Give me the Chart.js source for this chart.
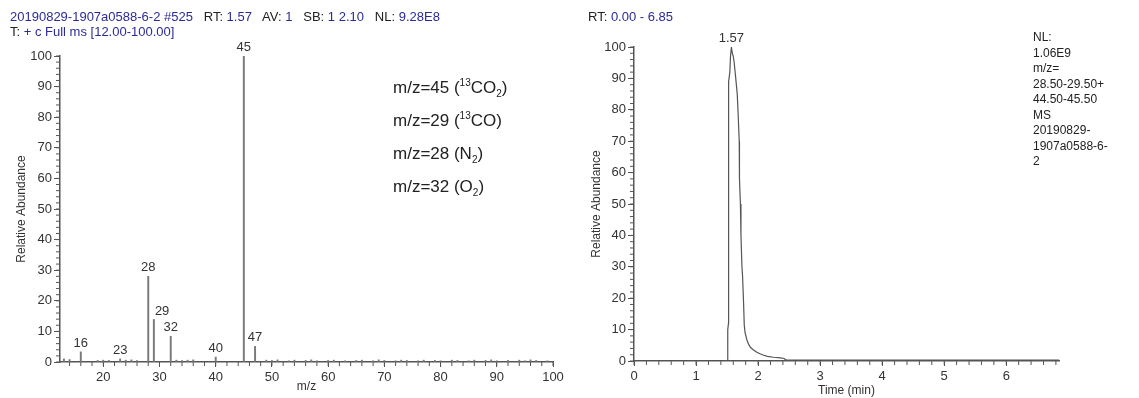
<!DOCTYPE html>
<html>
<head>
<meta charset="utf-8">
<script src="https://cdn.jsdelivr.net/npm/chart.js@4.4.0/dist/chart.umd.min.js"></script>
<style>
  body { margin: 0; background: #fff; font-family: "Liberation Sans", Arial, sans-serif; }
  #wrap { position: relative; width: 1139px; height: 398px; overflow: hidden; }
  canvas { position: absolute; top: 0; }
  .txt { position: absolute; font-size: 13px; color: #222; white-space: pre; line-height: 15px; }
  .b { color: #2b2b98; }
  .note { position: absolute; left: 393px; font-size: 17px; color: #222; white-space: nowrap; }
  .note sup { font-size: 10px; vertical-align: 7px; }
  .note sub { font-size: 10px; vertical-align: -4px; }
  .nl { position: absolute; left: 1033px; top: 30px; font-size: 12px; line-height: 15.5px; color: #222; }
</style>
</head>
<body>
<div id="wrap">
  <canvas id="spectrum" width="575" height="398" style="left:0"></canvas>
  <canvas id="chrom" width="564" height="398" style="left:575px"></canvas>

  <div class="txt" style="left:10px;top:9px"><span class="b">20190829-1907a0588-6-2 #525</span>   RT: <span class="b">1.57</span>   AV: <span class="b">1</span>   SB: <span class="b">1 2.10</span>   NL: <span class="b">9.28E8</span></div>
  <div class="txt" style="left:10px;top:24px">T: <span class="b">+ c Full ms [12.00-100.00]</span></div>
  <div class="txt" style="left:588px;top:9px">RT: <span class="b">0.00 - 6.85</span></div>

  <div class="note" style="top:77px">m/z=45 (<sup>13</sup>CO<sub>2</sub>)</div>
  <div class="note" style="top:110px">m/z=29 (<sup>13</sup>CO)</div>
  <div class="note" style="top:144px">m/z=28 (N<sub>2</sub>)</div>
  <div class="note" style="top:177px">m/z=32 (O<sub>2</sub>)</div>

  <div class="nl">NL:<br>1.06E9<br>m/z=<br>28.50-29.50+<br>44.50-45.50<br>MS<br>20190829-<br>1907a0588-6-<br>2</div>
</div>

<script>
// mass spectrum at RT 1.57
const spectrumMz = [13, 14, 16, 19, 20, 21, 23, 24, 25, 26, 28, 29, 32, 33, 34, 35, 36, 40, 45, 47,
  49, 50, 51, 53, 54, 56, 57, 58, 60, 61, 63, 65, 66, 68, 69, 70, 72, 73, 74, 76, 77, 79, 80, 82,
  83, 85, 86, 88, 89, 90, 92, 94, 95, 96, 97, 99];
const spectrumAbundance = [1.0, 0.8, 3.3, 0.5, 0.6, 0.5, 1.0, 0.6, 0.7, 0.5, 28.0, 13.9, 8.4, 0.6, 0.5, 0.6, 0.7, 1.6, 100, 5.1,
  0.6, 0.5, 0.7, 0.4, 0.6, 0.5, 0.7, 0.4, 0.5, 0.6, 0.4, 0.5, 0.6, 0.4, 0.7, 0.5, 0.4, 0.6, 0.5, 0.4, 0.6, 0.5, 0.4, 0.6,
  0.5, 0.4, 0.6, 0.5, 0.7, 0.4, 0.5, 0.6, 0.4, 0.7, 0.5, 0.4];
const labelledMz = [16, 23, 28, 29, 32, 40, 45, 47];
const mzTicks = [20, 30, 40, 50, 60, 70, 80, 90, 100];

// chromatogram, m/z 28.5-29.5 + 44.5-45.5
const chromTime = [0, 1.50, 1.507, 1.515, 1.523, 1.525, 1.545, 1.555, 1.57, 1.585, 1.60, 1.615, 1.64, 1.664, 1.68,
  1.696, 1.70, 1.715, 1.724, 1.74, 1.75, 1.766, 1.777, 1.79, 1.82, 1.85, 1.88, 1.927, 1.98, 2.03, 2.08, 2.15,
  2.25, 2.36, 2.42, 2.45, 3.0, 4.0, 5.0, 6.0, 6.85];
const chromAbundance = [0, 0, 4, 10, 12, 89, 92, 97, 100, 98, 97, 95, 90, 85, 78,
  70, 58, 50, 40, 30, 27, 18.5, 11.5, 9, 6.7, 5.2, 4.3, 3.5, 2.8, 2.3, 1.9, 1.5,
  1.2, 1.0, 0.8, 0.3, 0.3, 0.3, 0.3, 0.3, 0.3];
const chromApexLabel = "1.57";
const timeTicks = [0, 1, 2, 3, 4, 5, 6];

const yTicks = [0, 10, 20, 30, 40, 50, 60, 70, 80, 90, 100];

const axisColor = "#555";
const textColor = "#333";
const fontFamily = '"Liberation Sans", Arial, sans-serif';

const minorTicks = {
  id: "minorTicks",
  afterDraw(chart, args, opts) {
    const ctx = chart.ctx;
    ctx.save();
    ctx.strokeStyle = axisColor;
    ctx.lineWidth = 1;
    Object.entries(opts.steps).forEach(([id, step]) => {
      const s = chart.scales[id];
      const first = Math.ceil(s.min / step - 1e-6);
      for (let i = first; i * step <= s.max + 1e-6; i++) {
        const p = s.getPixelForValue(i * step);
        ctx.beginPath();
        if (s.isHorizontal()) {
          ctx.moveTo(p, s.top);
          ctx.lineTo(p, s.top + opts.len);
        } else {
          ctx.moveTo(s.right, p);
          ctx.lineTo(s.right - opts.len, p);
        }
        ctx.stroke();
      }
    });
    ctx.restore();
  }
};

// spectrum peak labels, pushed right when they would sit on a taller neighbour
const peakLabels = {
  id: "peakLabels",
  afterDatasetsDraw(chart) {
    const ctx = chart.ctx;
    const xs = chart.scales.x, ys = chart.scales.y;
    ctx.save();
    ctx.font = "13px " + fontFamily;
    ctx.fillStyle = textColor;
    ctx.textBaseline = "bottom";
    labelledMz.forEach((mz) => {
      const i = spectrumMz.indexOf(mz);
      const x = xs.getPixelForValue(mz);
      const y = ys.getPixelForValue(spectrumAbundance[i]) - 2;
      const w = ctx.measureText(String(mz)).width;
      const clash = spectrumMz.some((m, j) => {
        if (m === mz) return false;
        const px = xs.getPixelForValue(m);
        const top = ys.getPixelForValue(spectrumAbundance[j]);
        return Math.abs(px - x) < w / 2 + 1 && top < y;
      });
      ctx.textAlign = clash ? "left" : "center";
      ctx.fillText(String(mz), clash ? x + 1 : x, y);
    });
    ctx.restore();
  }
};

const apexLabel = {
  id: "apexLabel",
  afterDatasetsDraw(chart) {
    const ctx = chart.ctx;
    const i = chromAbundance.indexOf(Math.max(...chromAbundance));
    const x = chart.scales.x.getPixelForValue(chromTime[i]);
    const y = chart.scales.y.getPixelForValue(chromAbundance[i]) - 2;
    ctx.save();
    ctx.font = "13px " + fontFamily;
    ctx.fillStyle = textColor;
    ctx.textAlign = "center";
    ctx.textBaseline = "bottom";
    ctx.fillText(chromApexLabel, x, y);
    ctx.restore();
  }
};

function yAxis(width) {
  return {
    type: "linear",
    min: 0,
    max: 100,
    afterFit: (s) => { s.width = width; },
    afterBuildTicks: (s) => { s.ticks = yTicks.map((v) => ({ value: v })); },
    ticks: { color: textColor, font: { size: 13, family: fontFamily }, padding: 2 },
    grid: { drawOnChartArea: false, tickLength: 6, color: axisColor },
    border: { color: axisColor, width: 1.5 },
    title: { display: true, text: "Relative Abundance", color: textColor, font: { size: 12, family: fontFamily }, padding: 14 }
  };
}

function xAxis(min, max, ticks, height, title, pad) {
  return {
    type: "linear",
    min: min,
    max: max,
    offset: false,
    afterFit: (s) => { s.height = height; },
    afterBuildTicks: (s) => { s.ticks = ticks.map((v) => ({ value: v })); },
    ticks: { color: textColor, font: { size: 13, family: fontFamily }, padding: 3, maxRotation: 0 },
    grid: { drawOnChartArea: false, offset: false, tickLength: 5, color: axisColor },
    border: { color: axisColor, width: 1.5 },
    title: { display: true, text: title, color: textColor, font: { size: 12, family: fontFamily }, padding: pad }
  };
}

new Chart(document.getElementById("spectrum"), {
  type: "bar",
  data: {
    datasets: [{
      data: spectrumMz.map((m, i) => ({ x: m, y: spectrumAbundance[i] })),
      backgroundColor: "#7a7a7a",
      barThickness: 1.3
    }]
  },
  options: {
    responsive: false,
    animation: false,
    layout: { padding: { top: 56, right: 22, left: 0, bottom: 0 } },
    plugins: { legend: { display: false }, tooltip: { enabled: false }, minorTicks: { steps: { x: 2, y: 2 }, len: 4 } },
    scales: {
      x: xAxis(12.3, 100, mzTicks, 36, "m/z", 4),
      y: yAxis(60)
    }
  },
  plugins: [minorTicks, peakLabels]
});

new Chart(document.getElementById("chrom"), {
  type: "line",
  data: {
    datasets: [{
      data: chromTime.map((t, i) => ({ x: t, y: chromAbundance[i] })),
      borderColor: "#555",
      borderWidth: 1.2,
      pointRadius: 0,
      tension: 0,
      fill: false
    }]
  },
  options: {
    responsive: false,
    animation: false,
    layout: { padding: { top: 47, right: 80, left: 0, bottom: 0 } },
    plugins: { legend: { display: false }, tooltip: { enabled: false }, minorTicks: { steps: { x: 0.2, y: 2 }, len: 4 } },
    scales: {
      x: xAxis(0, 6.85, timeTicks, 37, "Time (min)", 0),
      y: yAxis(59)
    }
  },
  plugins: [minorTicks, apexLabel]
});
</script>
</body>
</html>
